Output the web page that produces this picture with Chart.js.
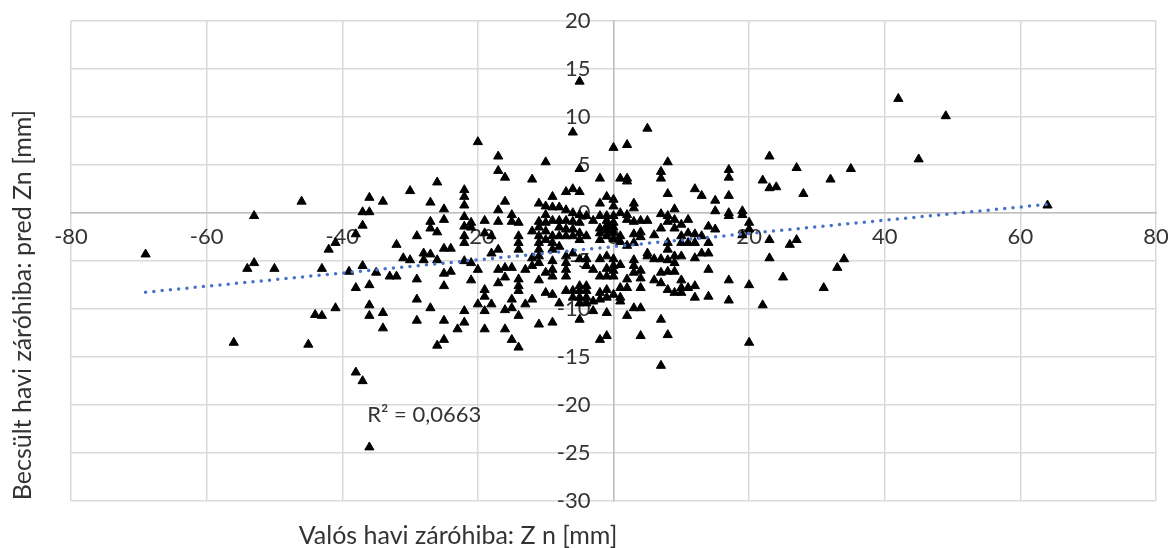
<!DOCTYPE html>
<html>
<head>
<meta charset="utf-8">
<script src="https://cdn.jsdelivr.net/npm/chart.js@4/dist/chart.umd.min.js"></script>
<style>
    html, body { margin: 0; padding: 0; background: #fff; }
    #wrap { width: 1168px; height: 548px; }
</style>
</head>
<body>
<div id="wrap"><canvas id="chartZn" width="1168" height="548"></canvas></div>
<script>
/* ============================================================
   DATA
============================================================ */
// x positions (Valós havi záróhiba) and the y values found at each x
const valosX = [
    -69, -56, -54, -53, -50, -46, -45, -44, -43, -42, -41, -39, -38, -37, -36, -35,
    -34, -33, -32, -31, -30, -29, -28, -27, -26, -25, -24, -23, -22, -21, -20, -19,
    -18, -17, -16, -15, -14, -13, -12, -11, -10, -9, -8, -7, -6, -5, -4, -3,
    -2, -1, 0, 1, 2, 3, 4, 5, 6, 7, 8, 9, 10, 11, 12, 13,
    14, 15, 17, 19, 20, 22, 23, 24, 25, 26, 27, 28, 31, 32, 33, 34,
    35, 42, 45, 49, 64
];
const becsultY = [
    [-4.3], [-13.5], [-5.8], [-0.3, -5.2], [-5.8], [1.2], [-13.7], [-10.6],
    [-5.8, -10.7], [-3.8], [-3.1, -9.9], [-6.1], [-2.2, -7.8, -16.6],
    [-1.3, 0.1, -5.5, -17.5], [0.1, 1.6, -7.5, -9.6, -10.7, -24.4], [-6.2],
    [1.2, -10.4, -12.0], [-6.6], [-3.3, -6.6], [-4.7], [2.3, -4.9],
    [-2.4, -6.9, -9.0, -11.2], [-4.2, -4.9], [1.1, -0.9, -1.6, -4.3, -9.9],
    [3.2, -2.0, -4.9, -13.8], [0.4, -0.7, -3.7, -6.3, -7.6, -11.2, -13.2],
    [-3.7, -6.1], [-12.1],
    [2.4, 1.7, 0.8, -0.4, -1.4, -2.4, -3.1, -5.0, -10.2, -11.4],
    [-1.0, -1.5, -5.2, -7.0], [7.4, -5.9, -9.5],
    [-0.8, -2.1, -8.0, -8.7, -10.2, -12.1], [-2.4, -4.2, -9.5],
    [5.9, 4.4, 0.3, -0.9, -3.8, -5.9, -7.3], [3.7, 1.2, -5.7, -6.7, -10.1, -12.1],
    [-0.2, -0.9, -5.7, -9.0, -9.9, -13.2],
    [-1.0, -2.4, -3.1, -3.8, -6.9, -7.6, -8.1, -10.7, -14.0], [-5.9, -9.5],
    [3.5, -1.9, -4.7, -5.5, -9.0],
    [1.0, -0.9, -1.5, -2.4, -3.1, -3.8, -4.5, -5.2, -7.0, -11.6],
    [5.3, 0.7, -0.2, -1.0, -1.9, -2.8, -6.2, -8.3],
    [1.7, 0.6, -0.8, -2.4, -3.1, -3.8, -5.0, -5.9, -6.6, -8.5, -11.4],
    [0.6, -0.8, -1.5, -2.4, -3.5, -9.4],
    [2.2, 0.3, -0.8, -1.7, -2.4, -4.5, -5.2, -5.9, -6.6, -8.1],
    [8.4, 2.5, 0, -0.9, -1.7, -2.4, -4.2, -8.1, -8.8],
    [13.7, 4.6, 2.2, -0.2, -1.0, -2.1, -2.8, -4.8, -7.6, -8.1, -8.8, -9.4, -11.1],
    [-0.3, -2.4, -4.8, -5.5, -7.6, -8.1, -8.8, -9.4], [-0.8, -5.9, -9.2, -10.2],
    [3.6, 1.0, -0.3, -1.6, -2.1, -2.8, -4.8, -6.6, -8.3, -9.0, -13.2],
    [1.7, -0.3, -0.8, -1.3, -1.8, -2.4, -4.5, -5.8, -6.6, -8.0, -8.8, -10.4, -12.8],
    [6.8, 1.4, 0.7, -0.3, -1.0, -1.5, -2.1, -2.7, -4.8, -5.5, -6.0, -6.6, -8.5],
    [3.6, 0, -2.4, -3.0, -5.4, -7.8, -8.8, -9.2],
    [7.1, 3.6, 3.3, -0.2, -0.7, -3.4, -6.9, -7.8, -10.7],
    [1.0, 0.5, -0.9, -2.2, -3.1, -4.9, -5.5, -6.2, -9.9],
    [-0.8, -2.0, -2.5, -6.0, -6.8, -7.8, -9.9, -12.8], [8.8, -0.8, -4.2, -4.5],
    [-2.3, -4.8, -7.0], [4.3, 3.6, -0.1, -1.6, -4.8, -6.2, -7.3, -11.1, -15.9],
    [5.3, 2.0, -0.3, -0.9, -3.1, -3.8, -4.9, -6.1, -8.0, -12.7],
    [0.4, -0.7, -1.6, -4.5, -5.2, -6.1, -8.3], [-1.2, -2.4, -3.1, -4.5, -7.0, -7.8, -8.3],
    [-0.7, -2.1, -3.1, -7.8], [2.5, -2.2, -3.1, -4.7, -7.6, -8.8], [1.8, -2.4, -4.2],
    [-1.4, -3.1, -4.2, -5.9, -8.7], [1.3, 0.2, -1.7], [4.5, 3.7, 1.8, 0, -0.3, -7.0, -9.1],
    [0.2, -0.2, -2.3], [-1.0, -1.7, -7.5, -13.5], [3.4, -9.6], [5.9, 2.6, -2.8, -4.7],
    [2.7], [-6.7], [-3.3], [4.7, -2.8], [2.0], [-7.8], [3.5], [-5.7], [-4.8],
    [4.6], [11.9], [5.6], [10.1], [0.8]
];

// lineáris trendvonal végpontjai
const trendX = [-69, 64];
const trendY = [-8.25, 0.9];
const r2Text = "R² = 0,0663";

// tengelyfeliratok (a 0-nál metsző tengelyek mellett)
const xTicks = [-80, -60, -40, -20, 0, 20, 40, 60, 80];
const yTicks = [20, 15, 10, 5, 0, -5, -10, -15, -20, -25, -30];

const xTitle = "Valós havi záróhiba: Z n [mm]";
const yTitle = "Becsült havi záróhiba: pred Zn [mm]";

/* ============================================================
   CHART
============================================================ */
const pontok = [];
valosX.forEach((x, i) => {
    becsultY[i].forEach(y => pontok.push({ x: x, y: y }));
});
const trend = trendX.map((x, i) => ({ x: x, y: trendY[i] }));

const FONT = "Lato, 'Open Sans', sans-serif";
const TXT = "#333333";

// tengely feliratok a pontok alatt
const tengelyFeliratok = {
    id: "tengelyFeliratok",
    beforeDatasetsDraw(chart) {
        const ctx = chart.ctx;
        const sx = chart.scales.x;
        const sy = chart.scales.y;
        const x0 = sx.getPixelForValue(0);
        const y0 = sy.getPixelForValue(0);
        ctx.save();
        ctx.fillStyle = TXT;
        ctx.font = "22px " + FONT;
        ctx.textBaseline = "middle";

        ctx.textAlign = "right";
        yTicks.forEach(v => ctx.fillText(String(v), x0 - 23, sy.getPixelForValue(v)));

        ctx.textAlign = "center";
        xTicks.forEach(v => ctx.fillText(String(v), sx.getPixelForValue(v), y0 + 24));
        ctx.restore();
    }
};

// tengelycímek + R² felirat
const feliratok = {
    id: "feliratok",
    afterDatasetsDraw(chart) {
        const ctx = chart.ctx;
        const sx = chart.scales.x;
        const sy = chart.scales.y;
        ctx.save();
        ctx.fillStyle = TXT;
        ctx.font = "22px " + FONT;
        ctx.textAlign = "left";
        ctx.textBaseline = "middle";
        ctx.fillText(r2Text, sx.getPixelForValue(-36.3), sy.getPixelForValue(-21));

        ctx.font = "25px " + FONT;
        ctx.textAlign = "center";
        ctx.fillText(xTitle, 458, 536);

        ctx.translate(23, 305);
        ctx.rotate(-Math.PI / 2);
        ctx.fillText(yTitle, 0, 0);
        ctx.restore();
    }
};

new Chart(document.getElementById("chartZn"), {
    type: "scatter",
    data: {
        datasets: [{
            label: "pred Zn",
            data: pontok,
            pointStyle: "triangle",
            pointRadius: 5.3,
            backgroundColor: "#000",
            borderColor: "#000",
            borderWidth: 1,
            order: 2
        }, {
            type: "line",
            label: "Lineáris",
            data: trend,
            showLine: true,
            pointRadius: 0,
            borderColor: "#4472C4",
            borderWidth: 3.5,
            borderDash: [0, 8.3],
            borderCapStyle: "round",
            fill: false,
            order: 1
        }]
    },
    options: {
        responsive: false,
        animation: false,
        events: [],
        layout: { padding: { left: 71, top: 21, right: 12, bottom: 47 } },
        plugins: {
            legend: { display: false },
            tooltip: { enabled: false }
        },
        scales: {
            x: {
                type: "linear",
                min: -80,
                max: 80,
                position: { y: 0 },
                ticks: { stepSize: 20, display: false },
                grid: { color: "#d9d9d9", lineWidth: 1.5, drawTicks: false },
                border: { color: "#bfbfbf", width: 1.5 }
            },
            y: {
                type: "linear",
                min: -30,
                max: 20,
                position: { x: 0 },
                ticks: { stepSize: 5, display: false },
                grid: { color: "#d9d9d9", lineWidth: 1.5, drawTicks: false },
                border: { color: "#bfbfbf", width: 1.5 }
            }
        }
    },
    plugins: [tengelyFeliratok, feliratok]
});
</script>
</body>
</html>
